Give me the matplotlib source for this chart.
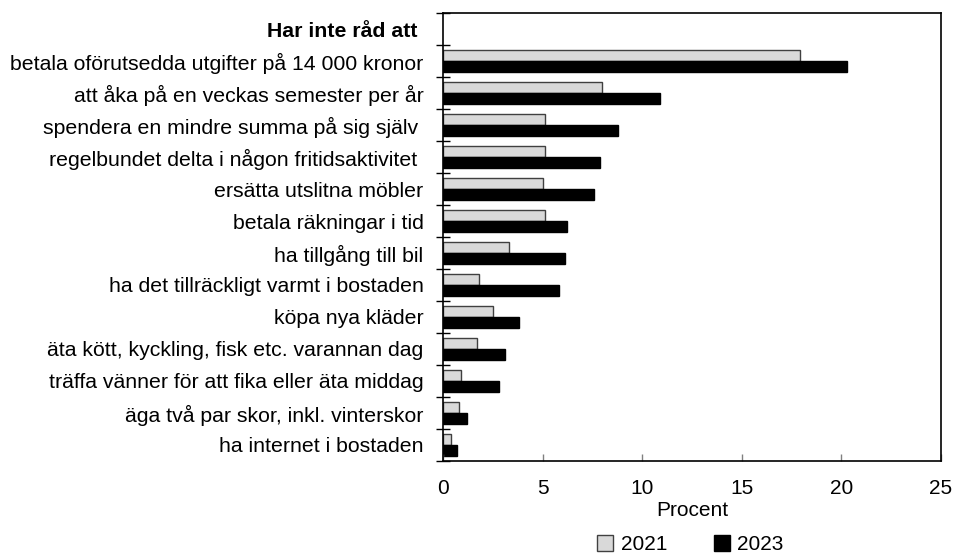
import numpy as np
import matplotlib.pyplot as plt

plt.rcParams['font.family'] = ['Liberation Sans', 'DejaVu Sans']

# categories, top to bottom (first slot is the heading, no bars)
categories = [
    "Har inte råd att ",
    "betala oförutsedda utgifter på 14 000 kronor",
    "att åka på en veckas semester per år",
    "spendera en mindre summa på sig själv ",
    "regelbundet delta i någon fritidsaktivitet ",
    "ersätta utslitna möbler",
    "betala räkningar i tid",
    "ha tillgång till bil",
    "ha det tillräckligt varmt i bostaden",
    "köpa nya kläder",
    "äta kött, kyckling, fisk etc. varannan dag",
    "träffa vänner för att fika eller äta middag",
    "äga två par skor, inkl. vinterskor",
    "ha internet i bostaden",
]
values_2021 = [np.nan, 17.9, 8.0, 5.1, 5.1, 5.0, 5.1, 3.3, 1.8, 2.5, 1.7, 0.9, 0.8, 0.4]
values_2023 = [np.nan, 20.3, 10.9, 8.8, 7.9, 7.6, 6.2, 6.1, 5.8, 3.8, 3.1, 2.8, 1.2, 0.7]

fig = plt.figure(figsize=(9.57, 5.54), dpi=100)
ax = fig.add_axes([0.4629, 0.1679, 0.5204, 0.8086])

y = np.arange(len(categories))
h = 0.335
ax.barh(y - h / 2, values_2021, height=h, color='#d9d9d9', edgecolor='#404040',
        linewidth=1, label='2021')
ax.barh(y + h / 2, values_2023, height=h, color='black', edgecolor='black',
        linewidth=1, label='2023')

ax.set_ylim(len(categories) - 0.5, -0.5)
ax.set_xlim(0, 25)
ax.set_xticks([0, 5, 10, 15, 20, 25])

ax.set_yticks(y)
ax.set_yticklabels(categories, fontsize=15.3)
ax.get_yticklabels()[0].set_fontweight('bold')
ax.tick_params(axis='y', which='major', length=0, pad=14)
ax.set_yticks(np.arange(-0.5, len(categories)), minor=True)
ax.tick_params(axis='y', which='minor', direction='inout', length=9.5, width=1, color='black')

ax.tick_params(axis='x', direction='in', length=5, width=1, color='#808080',
               labelsize=15, pad=13)
ax.set_xlabel("Procent", fontsize=15, labelpad=2)

for s in ax.spines.values():
    s.set_linewidth(1.2)
    s.set_color('black')

fig.legend(loc='center', bbox_to_anchor=(0.7215, 0.017), ncol=2, frameon=False,
           fontsize=15, handlelength=0.77, handleheight=0.77, handletextpad=0.35,
           columnspacing=2.25)

fig.savefig('out.png', dpi=100)
